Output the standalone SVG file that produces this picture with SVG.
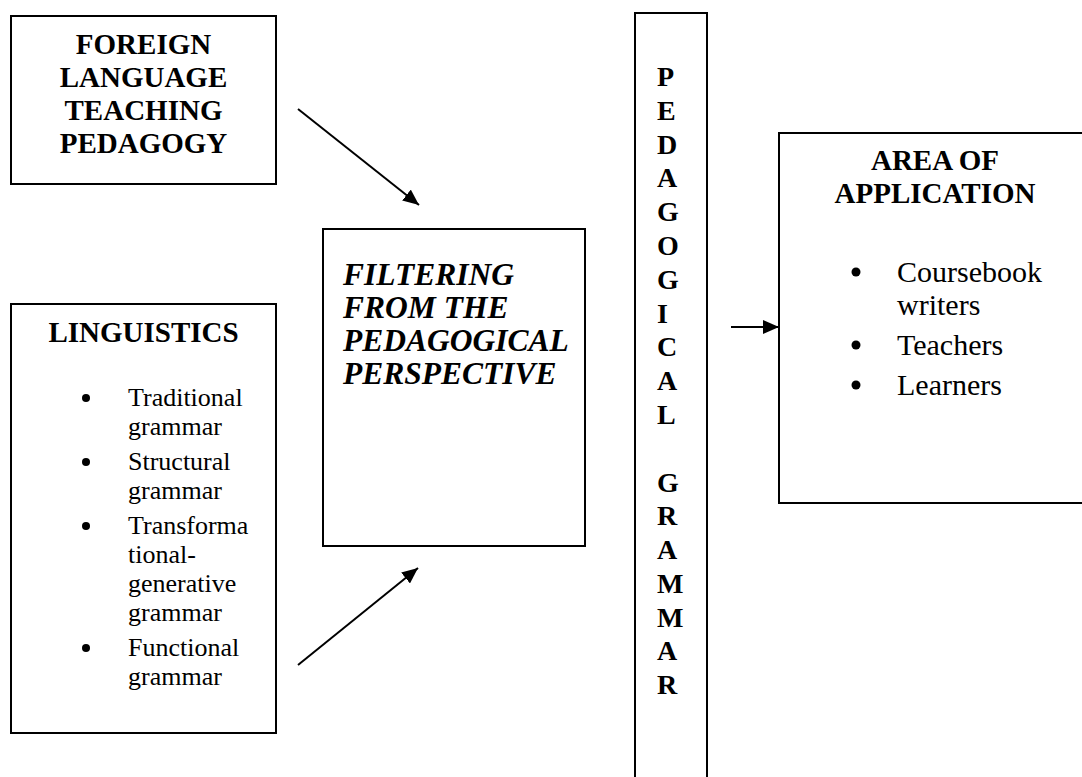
<svg xmlns="http://www.w3.org/2000/svg" width="1082" height="777" viewBox="0 0 1082 777">
<style>
.box{fill:#fff;stroke:#000;stroke-width:2}
.t{font-family:"Liberation Serif","Times New Roman",serif;fill:#000}
.b{font-weight:bold;font-size:29px}
.v{font-weight:bold;font-size:28px}
.bi{font-weight:bold;font-style:italic;font-size:31.5px}
.s{font-size:26px}
.m{font-size:30px}
.c{text-anchor:middle}
.edge{stroke:#000;stroke-width:2;fill:none}
</style>
<defs>
<marker id="ah" viewBox="0 0 10 10" refX="10" refY="5" markerWidth="16" markerHeight="14" markerUnits="userSpaceOnUse" orient="auto" preserveAspectRatio="none">
<path d="M0,0 L10,5 L0,10 z" fill="#000"/>
</marker>
</defs>
<rect width="1082" height="777" fill="#fff"/>
<g id="fltp">
<rect class="box" x="11" y="16" width="265" height="168"/>
<text class="t b c" x="143.5" y="54">FOREIGN</text>
<text class="t b c" x="143.5" y="87">LANGUAGE</text>
<text class="t b c" x="143.5" y="120">TEACHING</text>
<text class="t b c" x="143.5" y="153">PEDAGOGY</text>
</g>
<g id="linguistics">
<rect class="box" x="11" y="304" width="265" height="429"/>
<text class="t b c" x="143.5" y="342">LINGUISTICS</text>
<circle cx="86" cy="398" r="4"/>
<text class="t s" x="128" y="406">Traditional</text>
<text class="t s" x="128" y="435">grammar</text>
<circle cx="86" cy="462" r="4"/>
<text class="t s" x="128" y="470">Structural</text>
<text class="t s" x="128" y="499">grammar</text>
<circle cx="86" cy="526" r="4"/>
<text class="t s" x="128" y="534">Transforma</text>
<text class="t s" x="128" y="563">tional-</text>
<text class="t s" x="128" y="592">generative</text>
<text class="t s" x="128" y="621">grammar</text>
<circle cx="86" cy="648" r="4"/>
<text class="t s" x="128" y="656">Functional</text>
<text class="t s" x="128" y="685">grammar</text>
</g>
<g id="filtering">
<rect class="box" x="323" y="229" width="262" height="317"/>
<text class="t bi" x="343" y="285">FILTERING</text>
<text class="t bi" x="343" y="318">FROM THE</text>
<text class="t bi" x="343" y="351">PEDAGOGICAL</text>
<text class="t bi" x="343" y="384">PERSPECTIVE</text>
</g>
<g id="pedagogical-grammar">
<rect class="box" x="635" y="13" width="72" height="780"/>
<g class="t v">
<text x="657" y="86">P</text>
<text x="657" y="120">E</text>
<text x="657" y="154">D</text>
<text x="657" y="187">A</text>
<text x="657" y="221">G</text>
<text x="657" y="255">O</text>
<text x="657" y="289">G</text>
<text x="657" y="323">I</text>
<text x="657" y="356">C</text>
<text x="657" y="390">A</text>
<text x="657" y="424">L</text>
<text x="657" y="492">G</text>
<text x="657" y="525">R</text>
<text x="657" y="559">A</text>
<text x="657" y="593">M</text>
<text x="657" y="627">M</text>
<text x="657" y="660">A</text>
<text x="657" y="694">R</text>
</g>
</g>
<g id="area">
<rect class="box" x="779" y="133" width="310" height="370"/>
<text class="t b c" x="935" y="170">AREA OF</text>
<text class="t b c" x="935" y="203">APPLICATION</text>
<circle cx="856" cy="272" r="4.5"/>
<text class="t m" x="897" y="282">Coursebook</text>
<text class="t m" x="897" y="315">writers</text>
<circle cx="856" cy="345" r="4.5"/>
<text class="t m" x="897" y="355">Teachers</text>
<circle cx="856" cy="385" r="4.5"/>
<text class="t m" x="897" y="395">Learners</text>
</g>
<g id="connectors">
<line class="edge" x1="298" y1="109" x2="419" y2="205" marker-end="url(#ah)"/>
<line class="edge" x1="298" y1="665" x2="418" y2="568" marker-end="url(#ah)"/>
<line class="edge" x1="731" y1="327" x2="779" y2="327" marker-end="url(#ah)"/>
</g>
</svg>
